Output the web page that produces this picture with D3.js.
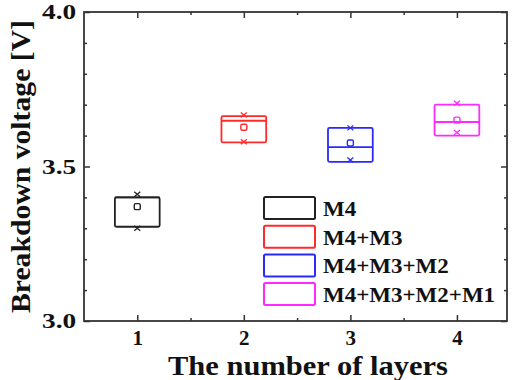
<!DOCTYPE html>
<html>
<head>
<meta charset="utf-8">
<script src="https://cdn.jsdelivr.net/npm/d3@7"></script>
<style>
  body { margin: 0; background: #fff; }
  svg text { font-family: "Liberation Serif", "Times New Roman", Times, serif; font-weight: bold; fill: #111; }
</style>
</head>
<body>
<div id="chart"></div>
<script>
// data
const layers   = [1, 2, 3, 4];
const names    = ["M4", "M4+M3", "M4+M3+M2", "M4+M3+M2+M1"];
const boxLow   = [3.305, 3.578, 3.515, 3.600];
const boxMed   = [3.400, 3.648, 3.563, 3.644];
const boxHigh  = [3.400, 3.663, 3.625, 3.700];
const meanVal  = [3.370, 3.627, 3.576, 3.650];
const minVal   = [3.300, 3.580, 3.521, 3.610];
const maxVal   = [3.410, 3.667, 3.625, 3.705];
const yMajor   = [3.0, 3.5, 4.0];
const yMinor   = [3.1, 3.2, 3.3, 3.4, 3.6, 3.7, 3.8, 3.9];
const xMinor   = [1.5, 2.5, 3.5];

const colors = ["#222222", "#ff2a2a", "#2a2aff", "#ff2aff"];
const serif = "'Liberation Serif', 'Times New Roman', Times, serif";

const W = 514, H = 380;
const pLeft = 84, pRight = 507, pTop = 12, pBottom = 321;

const svg = d3.select("#chart")
    .append("svg")
    .attr("width", W)
    .attr("height", H)
    .attr("font-family", serif);

const x = d3.scaleLinear().domain([0.5, 4.47]).range([pLeft, pRight]);
const y = d3.scaleLinear().domain([3.0, 4.0]).range([pBottom, pTop]);

// axes with inward ticks
function styleAxis(g) {
    g.attr("font-family", serif);
    g.select(".domain").remove();
    g.selectAll("line").attr("stroke", "#333").attr("stroke-width", 1.5);
}

const gl = svg.append("g")
    .attr("transform", `translate(${pLeft},0)`)
    .call(d3.axisLeft(y).tickValues(yMajor).tickSize(-6).tickPadding(6).tickFormat(d3.format(".1f")))
    .call(styleAxis);
gl.selectAll("text")
    .attr("font-size", 21)
    .attr("transform", "scale(1.3,1)");

svg.append("g")
    .attr("transform", `translate(${pLeft},0)`)
    .call(d3.axisLeft(y).tickValues(yMinor).tickSize(-3).tickFormat(""))
    .call(styleAxis);

svg.append("g")
    .attr("transform", `translate(${pRight},0)`)
    .call(d3.axisRight(y).tickValues(yMajor).tickSize(-6).tickFormat(""))
    .call(styleAxis);
svg.append("g")
    .attr("transform", `translate(${pRight},0)`)
    .call(d3.axisRight(y).tickValues(yMinor).tickSize(-3).tickFormat(""))
    .call(styleAxis);

const gb = svg.append("g")
    .attr("transform", `translate(0,${pBottom})`)
    .call(d3.axisBottom(x).tickValues(layers).tickSize(-6).tickPadding(9).tickFormat(d3.format("d")))
    .call(styleAxis);
gb.selectAll("text")
    .attr("font-size", 21);

svg.append("g")
    .attr("transform", `translate(0,${pBottom})`)
    .call(d3.axisBottom(x).tickValues(xMinor).tickSize(-3).tickFormat(""))
    .call(styleAxis);

svg.append("g")
    .attr("transform", `translate(0,${pTop})`)
    .call(d3.axisTop(x).tickValues(layers).tickSize(-6).tickFormat(""))
    .call(styleAxis);
svg.append("g")
    .attr("transform", `translate(0,${pTop})`)
    .call(d3.axisTop(x).tickValues(xMinor).tickSize(-3).tickFormat(""))
    .call(styleAxis);

// frame
svg.append("rect")
    .attr("x", pLeft).attr("y", pTop)
    .attr("width", pRight - pLeft).attr("height", pBottom - pTop)
    .attr("fill", "none")
    .attr("stroke", "#333")
    .attr("stroke-width", 1.8);

// boxes
const bw = 0.42;
const data = layers.map((l, i) => ({
    l, i, lo: boxLow[i], med: boxMed[i], hi: boxHigh[i],
    mean: meanVal[i], mn: minVal[i], mx: maxVal[i]
}));

const box = svg.selectAll(".box")
    .data(data)
    .enter()
    .append("g")
    .attr("class", "box")
    .attr("stroke", d => colors[d.i])
    .attr("fill", "none")
    .attr("stroke-width", 1.8);

box.append("rect")
    .attr("x", d => x(d.l - bw / 2))
    .attr("y", d => y(d.hi))
    .attr("width", d => x(d.l + bw / 2) - x(d.l - bw / 2))
    .attr("height", d => y(d.lo) - y(d.hi))
    .attr("rx", 1.5);

box.append("line")
    .attr("x1", d => x(d.l - bw / 2))
    .attr("x2", d => x(d.l + bw / 2))
    .attr("y1", d => y(d.med))
    .attr("y2", d => y(d.med));

// mean marker
box.append("rect")
    .attr("x", d => x(d.l) - 3)
    .attr("y", d => y(d.mean) - 3)
    .attr("width", 6)
    .attr("height", 6)
    .attr("rx", 1.5)
    .attr("stroke-width", 1.4);

// min / max crosses
function cross(sel, key) {
    sel.append("path")
        .attr("d", d => {
            const cx = x(d.l), cy = y(d[key]);
            return `M${cx - 3},${cy - 2.5}L${cx + 3},${cy + 2.5}M${cx - 3},${cy + 2.5}L${cx + 3},${cy - 2.5}`;
        })
        .attr("stroke-width", 1.3);
}
cross(box, "mn");
cross(box, "mx");

// legend
const legend = svg.append("g").attr("transform", "translate(264,197)");
const rows = legend.selectAll(".leg")
    .data(names)
    .enter()
    .append("g")
    .attr("class", "leg")
    .attr("transform", (d, i) => `translate(0,${i * 28.7})`);

rows.append("rect")
    .attr("width", 51)
    .attr("height", 22)
    .attr("rx", 1.5)
    .attr("fill", "#fff")
    .attr("stroke", (d, i) => colors[i])
    .attr("stroke-width", 2);

rows.append("text")
    .attr("transform", "translate(59,19) scale(1.15,1)")
    .attr("font-size", 20)
    .text(d => d);

// axis titles
svg.append("text")
    .attr("x", 308)
    .attr("y", 375)
    .attr("text-anchor", "middle")
    .attr("font-size", 27)
    .attr("textLength", 280)
    .attr("lengthAdjust", "spacingAndGlyphs")
    .text("The number of layers");

svg.append("text")
    .attr("transform", `translate(30,${(pTop + pBottom) / 2}) rotate(-90)`)
    .attr("text-anchor", "middle")
    .attr("font-size", 28)
    .attr("textLength", 293)
    .attr("lengthAdjust", "spacingAndGlyphs")
    .text("Breakdown voltage [V]");
</script>
</body>
</html>
